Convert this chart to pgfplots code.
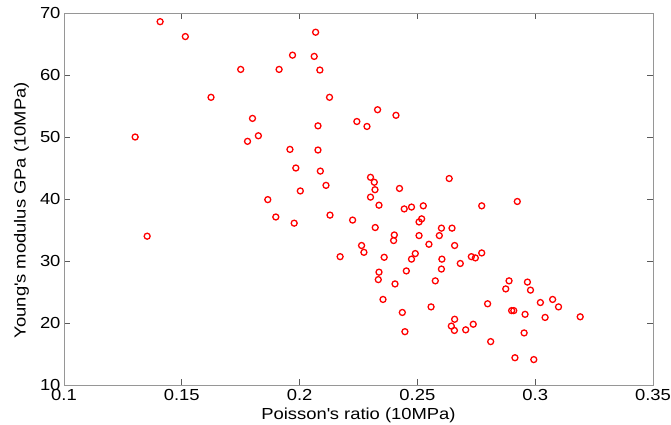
\documentclass[border=0pt]{standalone}
\usepackage{fontspec}
\setmainfont{Liberation Sans}[FakeStretch=1.15]
\usepackage{pgfplots}
\pgfplotsset{compat=1.18}
\definecolor{axgray}{RGB}{150,150,150}
\definecolor{tkgray}{RGB}{90,90,90}
\begin{document}
\begin{tikzpicture}
\useasboundingbox (-64bp,-40bp) rectangle (607bp,385bp);
\begin{axis}[
  at={(0,0)}, anchor=south west,
  scale only axis, width=589bp, height=372bp,
  xmin=0.1, xmax=0.35, ymin=10, ymax=70,
  xtick={0.1,0.15,0.2,0.25,0.3,0.35},
  xticklabels={0.1,0.15,0.2,0.25,0.3,0.35},
  ytick={10,20,30,40,50,60,70},
  /pgf/number format/assume math mode=true,
  tick align=inside, major tick length=6bp,
  tick style={tkgray, line width=0.8bp},
  axis line style={axgray, line width=1bp},
  ticklabel style={font=\fontsize{16bp}{19bp}\selectfont, text=black},
  label style={font=\fontsize{16bp}{19bp}\selectfont},
  xticklabel style={yshift=-1bp},
  xlabel={Poisson\textquotesingle s ratio (10MPa)},
  ylabel={Young\textquotesingle s modulus GPa (10MPa)},
  xlabel style={at={(axis description cs:0.5,0)}, anchor=base, yshift=-34bp},
  ylabel style={at={(axis description cs:-0.0722,0.47)}, anchor=center, rotate=0},
]
\addplot[only marks, mark=o, mark size=3bp, red, line width=1.3bp] table {
x y
0.1408 68.6
0.1515 66.2
0.2068 66.9
0.1970 63.2
0.2062 63.0
0.1750 60.9
0.1913 60.9
0.2086 60.8
0.1624 56.4
0.2127 56.4
0.1800 53.0
0.2243 52.5
0.2078 51.8
0.1302 50.0
0.1825 50.2
0.1779 49.3
0.1959 48.0
0.2078 47.9
0.1984 45.0
0.2088 44.5
0.2112 42.2
0.2003 41.3
0.1865 39.9
0.2331 54.4
0.2409 53.5
0.2286 51.7
0.2301 43.5
0.2317 42.7
0.2635 43.3
0.2320 41.5
0.2424 41.7
0.2301 40.3
0.2924 39.6
0.2337 39.0
0.2444 38.4
0.2475 38.7
0.2525 38.9
0.2773 38.9
0.2129 37.4
0.2225 36.6
0.2321 35.4
0.2518 36.8
0.2507 36.3
0.2602 35.3
0.2647 35.3
0.2402 34.2
0.2399 33.3
0.2507 34.1
0.2593 34.1
0.2549 32.7
0.2658 32.5
0.2263 32.5
0.2273 31.4
0.2172 30.7
0.2359 30.6
0.2491 31.2
0.2475 30.3
0.2604 30.3
0.2682 29.6
0.2729 30.7
0.2746 30.5
0.2773 31.3
0.2602 28.7
0.2453 28.4
0.2337 28.2
0.2334 27.0
0.2576 26.8
0.2405 26.3
0.2889 26.8
0.2967 26.6
0.2875 25.5
0.2980 25.3
0.2354 23.8
0.2558 22.6
0.2798 23.1
0.3022 23.3
0.3074 23.8
0.3099 22.6
0.2436 21.7
0.2900 22.0
0.2909 22.0
0.2957 21.4
0.3042 20.9
0.3191 21.0
0.2658 20.6
0.2644 19.5
0.2657 18.8
0.2737 19.8
0.2705 18.9
0.2447 18.6
0.2953 18.4
0.2811 17.0
0.2914 14.4
0.2994 14.1
0.1899 37.1
0.1977 36.1
0.1353 34.0
};
\end{axis}
\end{tikzpicture}
\end{document}
